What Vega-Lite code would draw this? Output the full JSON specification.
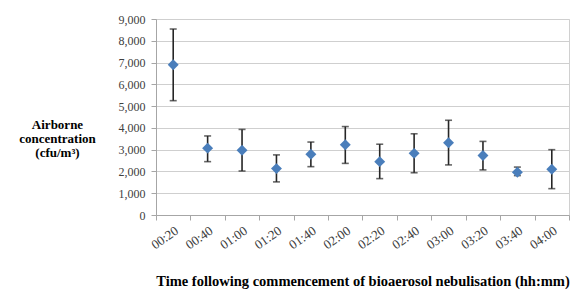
{
  "$schema": "https://vega.github.io/schema/vega-lite/v6.json",
  "width": 413,
  "height": 196,
  "autosize": {"type": "none"},
  "padding": {"left": 156, "top": 19, "right": 7, "bottom": 86},
  "background": "white",
  "title": {
    "text": "aerosol nebulisation.",
    "anchor": "start",
    "frame": "group",
    "orient": "top",
    "baseline": "alphabetic",
    "offset": 1,
    "dx": -154,
    "font": "Times New Roman, Liberation Serif, serif",
    "fontSize": 15,
    "fontWeight": "bold",
    "color": "#000000"
  },
  "data": {
    "values": [
      {"t": "00:20", "mean": 6900, "lo": 5250, "hi": 8540},
      {"t": "00:40", "mean": 3070, "lo": 2450, "hi": 3630},
      {"t": "01:00", "mean": 2970, "lo": 2020, "hi": 3930},
      {"t": "01:20", "mean": 2130, "lo": 1520, "hi": 2760},
      {"t": "01:40", "mean": 2790, "lo": 2220, "hi": 3350},
      {"t": "02:00", "mean": 3230, "lo": 2370, "hi": 4060},
      {"t": "02:20", "mean": 2450, "lo": 1670, "hi": 3250},
      {"t": "02:40", "mean": 2830, "lo": 1940, "hi": 3730},
      {"t": "03:00", "mean": 3320, "lo": 2300, "hi": 4350},
      {"t": "03:20", "mean": 2730, "lo": 2070, "hi": 3380},
      {"t": "03:40", "mean": 1960, "lo": 1810, "hi": 2200},
      {"t": "04:00", "mean": 2100, "lo": 1210, "hi": 3000}
    ]
  },
  "encoding": {
    "x": {
      "field": "t",
      "type": "nominal",
      "sort": null,
      "scale": {"type": "band", "paddingInner": 0, "paddingOuter": 0},
      "axis": {
        "title": "Time following commencement of bioaerosol nebulisation (hh:mm)",
        "titleFont": "Times New Roman, Liberation Serif, serif",
        "titleFontSize": 14.5,
        "titleFontWeight": "bold",
        "titleColor": "#000000",
        "titleBaseline": "alphabetic",
        "titleY": 70,
        "labelAngle": -35,
        "labelAlign": "right",
        "labelBaseline": "top",
        "labelFont": "Times New Roman, Liberation Serif, serif",
        "labelFontSize": 13,
        "labelColor": "#404040",
        "labelPadding": 4,
        "tickBand": "extent",
        "tickSize": 5,
        "tickColor": "#a6a6a6",
        "domainColor": "#a6a6a6",
        "grid": false
      }
    }
  },
  "layer": [
    {
      "mark": {"type": "rule", "color": "#262626", "strokeWidth": 1.6},
      "encoding": {
        "y": {
          "field": "lo",
          "type": "quantitative",
          "scale": {"domain": [0, 9000], "nice": false},
          "axis": {
            "tickCount": 10,
            "values": [0, 1000, 2000, 3000, 4000, 5000, 6000, 7000, 8000, 9000],
            "format": ",.0f",
            "labelOverlap": false,
            "labelBound": false,
            "title": ["Airborne", "concentration", "(cfu/m³)"],
            "titleAngle": 0,
            "titleAlign": "center",
            "titleBaseline": "top",
            "titleX": -99,
            "titleY": 99,
            "titleLineHeight": 14,
            "titleFont": "Times New Roman, Liberation Serif, serif",
            "titleFontSize": 13,
            "titleFontWeight": "bold",
            "titleColor": "#000000",
            "labelFont": "Times New Roman, Liberation Serif, serif",
            "labelFontSize": 12,
            "labelColor": "#404040",
            "labelPadding": 6,
            "tickSize": 5,
            "tickColor": "#a6a6a6",
            "domainColor": "#a6a6a6",
            "grid": true,
            "gridColor": "#cfcfcf",
            "gridWidth": 1
          }
        },
        "y2": {"field": "hi"}
      }
    },
    {
      "mark": {"type": "tick", "color": "#262626", "thickness": 1.6, "size": 7, "orient": "horizontal"},
      "encoding": {"y": {"field": "lo", "type": "quantitative"}}
    },
    {
      "mark": {"type": "tick", "color": "#262626", "thickness": 1.6, "size": 7, "orient": "horizontal"},
      "encoding": {"y": {"field": "hi", "type": "quantitative"}}
    },
    {
      "mark": {"type": "point", "shape": "diamond", "filled": true, "color": "#4a7ebb", "size": 120, "opacity": 1},
      "encoding": {"y": {"field": "mean", "type": "quantitative"}}
    }
  ],
  "config": {
    "font": "Times New Roman, Liberation Serif, serif",
    "view": {"stroke": "#d0d0d0", "strokeWidth": 1},
    "axisY": {"labelOverlap": false}
  }
}
